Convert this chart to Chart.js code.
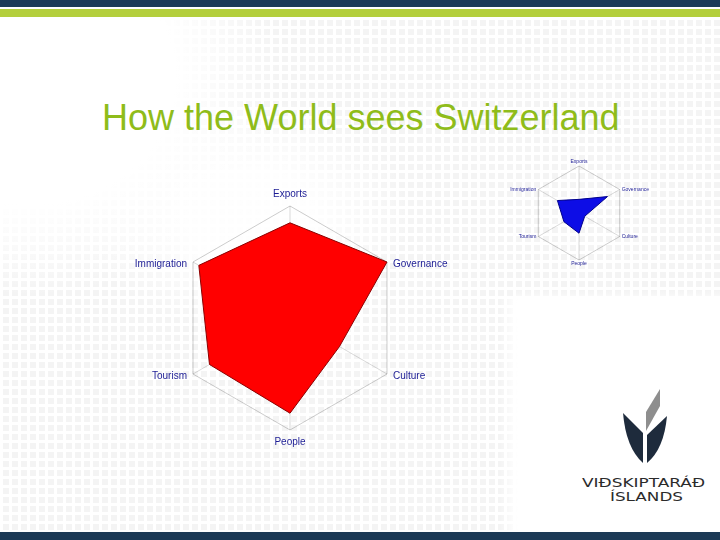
<!DOCTYPE html>
<html>
<head>
<meta charset="utf-8">
<title>How the World sees Switzerland</title>
<script src="https://cdn.jsdelivr.net/npm/chart.js@4"></script>
<style>
  html, body { margin: 0; padding: 0; background: #fff; }
  .slide { position: relative; width: 720px; height: 540px; overflow: hidden; background: #fff; font-family: "Liberation Sans", Arial, sans-serif; }
  .bar-top { position: absolute; left: 0; top: 0; width: 720px; height: 7px; background: #1c3a56; }
  .bar-green { position: absolute; left: 0; top: 9px; width: 720px; height: 8px; background: #b4cf3c; }
  .bar-bottom { position: absolute; left: 0; top: 532px; width: 720px; height: 8px; background: #1c3a56; }
  .dots {
    position: absolute; left: 0; top: 17px; width: 720px; height: 515px;
    background:
      linear-gradient(#fff 3px, transparent 3px) 0 0 / 9px 9px,
      linear-gradient(90deg, #fff 3px, #ebebeb 3px) 0 0 / 9px 9px;
  }
  .fade {
    position: absolute; left: 0; top: 17px; width: 720px; height: 515px;
    background:
      radial-gradient(ellipse 250px 220px at 30px 60px, #fff 58%, rgba(255,255,255,0) 100%),
      radial-gradient(ellipse 160px 120px at 250px 200px, rgba(255,255,255,0.9) 40%, rgba(255,255,255,0) 100%),
      linear-gradient(rgba(255,255,255,0.45), rgba(255,255,255,0.45));
  }
  .blank { position: absolute; left: 500px; top: 298px; width: 220px; height: 234px; background: linear-gradient(90deg, rgba(255,255,255,0), #fff 18px); }
  .blank-top { position: absolute; left: 515px; top: 290px; width: 205px; height: 24px; background: linear-gradient(rgba(255,255,255,0), #fff 16px); }
  .title { position: absolute; left: 102px; top: 97px; font-size: 36px; color: #8fbc1a; white-space: nowrap; line-height: 42px; }
  #bigChart { position: absolute; left: 90px; top: 180px; }
  #smallChart { position: absolute; left: 479px; top: 150px; }
  .logo { position: absolute; left: 570px; top: 380px; }
</style>
</head>
<body>
<div class="slide">
  <div class="bar-top"></div>
  <div class="bar-green"></div>
  <div class="dots"></div>
  <div class="fade"></div>
  <div class="blank"></div>
  <div class="blank-top"></div>
  <div class="bar-bottom"></div>
  <div class="title">How the World sees Switzerland</div>
  <canvas id="bigChart" width="400" height="276"></canvas>
  <canvas id="smallChart" width="200" height="125"></canvas>
  <svg class="logo" width="150" height="125" viewBox="570 380 150 125">
    <path d="M623 413 L643 433 L643 463 Q626 448 623 413 Z" fill="#1e2b3c"/>
    <path d="M667 416 L647 435 L647 463 Q664 449 667 416 Z" fill="#1e2b3c"/>
    <path d="M646 412 L660 389 L660 406 L646 431 Z" fill="#8e8e8e"/>
    <text x="582" y="487" font-family="DejaVu Sans, sans-serif" font-size="12" fill="#2b2b2b" textLength="123" lengthAdjust="spacingAndGlyphs">VIÐSKIPTARÁÐ</text>
    <text x="610" y="501" font-family="DejaVu Sans, sans-serif" font-size="12" fill="#2b2b2b" textLength="73" lengthAdjust="spacingAndGlyphs">ÍSLANDS</text>
  </svg>
</div>
<script>
// Axes, clockwise from the top
const axisLabels = ['Exports', 'Governance', 'Culture', 'People', 'Tourism', 'Immigration'];

// Large red profile
const worldScores = [0.85, 1.0, 0.51, 0.85, 0.83, 0.94];

// Small blue profile
const comparisonScores = [0.29, 0.70, 0.14, 0.43, 0.37, 0.53];

const scaleMin = 0;
const scaleMax = 1;

/**
 * Axis labels next to the spoke ends, positioned from the radial scale
 */
const spokeLabels = {
  id: 'spokeLabels',
  afterDraw(chart, args, opts) {
    const scale = chart.scales.r;
    const ctx = chart.ctx;
    ctx.save();
    ctx.font = `${opts.size}px "Liberation Sans", Arial, sans-serif`;
    ctx.fillStyle = '#1c1c94';
    ctx.textBaseline = 'middle';
    chart.data.labels.forEach((label, i) => {
      const side = Math.sin(scale.getIndexAngle(i));
      if (Math.abs(side) < 0.1) {
        // top and bottom labels sit on the spoke line
        const pos = scale.getPointPosition(i, scale.drawingArea + opts.vPad);
        ctx.textAlign = 'center';
        ctx.fillText(label, pos.x, pos.y);
      } else {
        // side labels are level with the spoke end
        const pos = scale.getPointPosition(i, scale.drawingArea);
        ctx.textAlign = side > 0 ? 'left' : 'right';
        ctx.fillText(label, pos.x + Math.sign(side) * opts.hPad, pos.y + opts.yShift);
      }
    });
    ctx.restore();
  }
};

/**
 * Build radar options, only the outer ring and the spokes are drawn
 */
function radarOptions(labelOpts, padTop, padBottom) {
  return {
    responsive: false,
    animation: false,
    devicePixelRatio: 1,
    layout: { padding: { top: padTop, bottom: padBottom } },
    plugins: {
      legend: { display: false },
      tooltip: { enabled: false },
      spokeLabels: labelOpts
    },
    elements: {
      point: { radius: 0 },
      line: { tension: 0 }
    },
    scales: {
      r: {
        min: scaleMin,
        max: scaleMax,
        z: 1, // spokes show through the fill
        ticks: { display: false, stepSize: 1 },
        grid: { color: 'rgba(0, 0, 0, 0.2)', lineWidth: 1 },
        angleLines: { color: 'rgba(0, 0, 0, 0.15)', lineWidth: 1 },
        pointLabels: { display: false }
      }
    }
  };
}

function renderRadar(canvasId, values, fillColor, edgeColor, labelOpts, padTop, padBottom) {
  const canvas = document.getElementById(canvasId);
  if (!canvas) {
    console.warn(`Canvas ${canvasId} not found`);
    return;
  }
  new Chart(canvas.getContext('2d'), {
    type: 'radar',
    data: {
      labels: axisLabels,
      datasets: [{
        data: values,
        backgroundColor: fillColor,
        borderColor: edgeColor,
        borderWidth: 1,
        fill: true
      }]
    },
    options: radarOptions(labelOpts, padTop, padBottom),
    plugins: [spokeLabels]
  });
}

renderRadar('bigChart', worldScores, '#ff0000', '#8b0000', { size: 10, vPad: 12, hPad: 6, yShift: 2 }, 26, 26);
renderRadar('smallChart', comparisonScores, '#0d0de6', '#00008b', { size: 5, vPad: 4, hPad: 2, yShift: 0 }, 16, 15);
</script>
</body>
</html>
